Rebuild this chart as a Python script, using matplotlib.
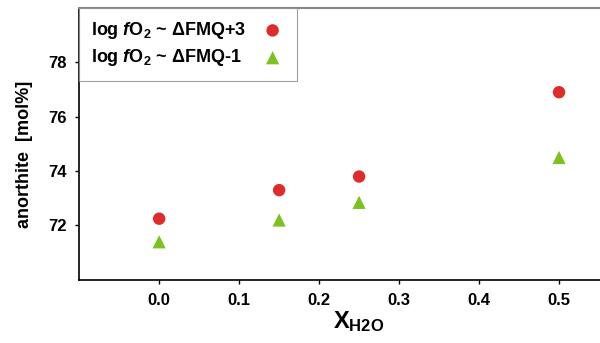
import matplotlib.pyplot as plt
import numpy as np

# data
x_h2o = [0.0, 0.15, 0.25, 0.5]
an_ox = [72.25, 73.3, 73.8, 76.9]    # log fO2 ~ dFMQ+3
an_red = [71.4, 72.2, 72.85, 74.5]   # log fO2 ~ dFMQ-1

plt.rcParams.update({
    'font.family': 'Liberation Sans',
    'font.weight': 'bold',
    'axes.labelweight': 'bold',
    'mathtext.fontset': 'custom',
    'mathtext.rm': 'Liberation Sans:bold',
    'mathtext.it': 'Liberation Sans:italic:bold',
    'mathtext.bf': 'Liberation Sans:bold',
    'mathtext.sf': 'Liberation Sans',
})

fig = plt.figure(figsize=(6, 3.43), dpi=100)
ax = fig.add_axes([0.132, 0.184, 0.933, 0.793])

ax.scatter(x_h2o, an_ox, s=80, marker='o', color='#e02b2b', edgecolors='none',
           label=r'log $f$O$_2$ ~ $\mathsf{\Delta}$FMQ+3', zorder=3)
ax.scatter(x_h2o, an_red, s=90, marker='^', color='#7cc21e', edgecolors='none',
           label=r'log $f$O$_2$ ~ $\mathsf{\Delta}$FMQ-1', zorder=3)

ax.set_xlim(-0.1, 0.6)
ax.set_ylim(70, 80)
ax.set_xticks([0.0, 0.1, 0.2, 0.3, 0.4, 0.5])
ax.set_yticks([72, 74, 76, 78])
ax.xaxis.set_major_formatter(plt.FormatStrFormatter('%.1f'))
ax.tick_params(direction='out', length=3, width=1, labelsize=12)
ax.tick_params(axis='x', pad=6.5)
ax.tick_params(axis='y', pad=6)

ax.spines['top'].set_color('#888888')
ax.spines['top'].set_linewidth(1.5)
ax.spines['left'].set_linewidth(1.2)
ax.spines['bottom'].set_linewidth(1.2)

ax.set_xlabel(r'X$_{\mathregular{H2O}}$', fontsize=17, labelpad=1)
ax.set_ylabel('anorthite  [mol%]', fontsize=13)
ax.yaxis.set_label_coords(-0.082, 0.46)

leg = ax.legend(loc='upper left', markerfirst=False, fontsize=13, frameon=True,
                fancybox=False, borderaxespad=0, handletextpad=0.8,
                borderpad=0.68, labelspacing=0.35, handlelength=1.3)
leg.get_frame().set_edgecolor('#888888')
leg.get_frame().set_linewidth(0.8)

# left-align the legend texts but keep the markers in one column
col = leg._legend_handle_box.get_children()[0]
col.align = 'left'
fig.canvas.draw()
r = fig.canvas.get_renderer()
ws = [t.get_window_extent(r).width for t in leg.get_texts()]
for row, w in zip(col.get_children(), ws):
    row.sep += (max(ws) - w) * 72 / fig.dpi

fig.savefig('out.png', dpi=100)
